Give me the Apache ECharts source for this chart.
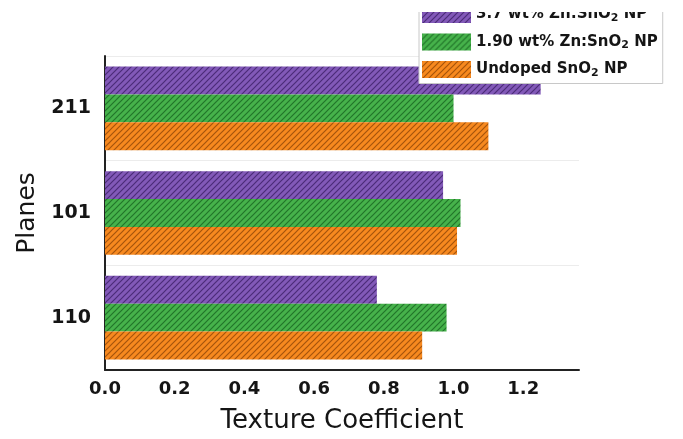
<!DOCTYPE html>
<html>
<head>
<meta charset="utf-8">
<script src="https://cdn.jsdelivr.net/npm/echarts@6/dist/echarts.min.js"></script>
<style>
  html, body { margin: 0; padding: 0; background: #fff; }
  #chart { width: 683px; height: 439px; }
</style>
</head>
<body>
<div id="chart"></div>
<script>
// Crystal planes (bottom to top on the axis)
const planes = ['110', '101', '211'];

// Texture coefficient per plane
const undoped = [0.91, 1.01, 1.10];
const zn190 = [0.98, 1.02, 1.00];
const zn37 = [0.78, 0.97, 1.25];

const seriesNames = ['3.7 wt% Zn:SnO2 NP', '1.90 wt% Zn:SnO2 NP', 'Undoped SnO2 NP'];
const xTicks = [0, 0.2, 0.4, 0.6, 0.8, 1.0, 1.2];

// Diagonal hatch fill: solid base colour with thin darker "/" strokes
function hatch(base, line) {
  const s = 6;
  const c = document.createElement('canvas');
  c.width = s; c.height = s;
  const ctx = c.getContext('2d');
  ctx.fillStyle = base;
  ctx.fillRect(0, 0, s, s);
  ctx.strokeStyle = line;
  ctx.lineWidth = 1.2;
  ctx.beginPath();
  ctx.moveTo(-1, s + 1); ctx.lineTo(s + 1, -1);
  ctx.moveTo(-1, 1); ctx.lineTo(1, -1);
  ctx.moveTo(s - 1, s + 1); ctx.lineTo(s + 1, s - 1);
  ctx.stroke();
  return { image: c, repeat: 'repeat' };
}

const purpleFill = hatch('#8259b8', '#4b2c78');
const greenFill = hatch('#46b24b', '#22752a');
const orangeFill = hatch('#f7891f', '#a5540c');

const FONT = 'DejaVu Sans';

const chart = echarts.init(document.getElementById('chart'), null, { renderer: 'canvas' });

function barSeries(name, data, fill) {
  return {
    name: name,
    type: 'bar',
    data: data,
    barGap: '0%',
    barCategoryGap: '20%',
    itemStyle: { color: fill },
    emphasis: { disabled: true }
  };
}

chart.setOption({
  animation: false,
  backgroundColor: '#ffffff',
  grid: { left: 105, right: 104, top: 56, bottom: 68, containLabel: false },
  legend: {
    data: seriesNames,
    orient: 'vertical',
    left: 419,
    top: -2,
    padding: [8, 5, 5, 3],
    itemWidth: 49,
    itemHeight: 17,
    itemGap: 10,
    icon: 'rect',
    selectedMode: false,
    backgroundColor: '#ffffff',
    borderColor: '#c8c8c8',
    borderWidth: 1,
    formatter: function (name) {
      return name.replace('SnO2', 'SnO{s|2}');
    },
    textStyle: {
      fontFamily: FONT,
      fontWeight: 'bold',
      fontSize: 15,
      color: '#151515',
      rich: {
        s: {
          fontFamily: FONT,
          fontWeight: 'bold',
          fontSize: 11,
          color: '#151515',
          verticalAlign: 'bottom',
          padding: [7, 0, 0, 0]
        }
      }
    }
  },
  // white strip along the top edge of the figure
  graphic: [{
    type: 'rect',
    left: 400,
    top: 0,
    z: 100,
    silent: true,
    shape: { width: 283, height: 12 },
    style: { fill: '#ffffff' }
  }],
  xAxis: {
    type: 'value',
    min: 0,
    max: 1.36,
    interval: 0.2,
    name: 'Texture Coefficient',
    nameLocation: 'middle',
    nameGap: 38,
    nameTextStyle: { fontFamily: FONT, fontSize: 26, color: '#151515' },
    axisLine: { show: true, lineStyle: { color: '#222', width: 2 } },
    axisTick: { show: false },
    splitLine: { show: false },
    axisLabel: {
      showMaxLabel: false,
      margin: 10,
      fontFamily: FONT,
      fontWeight: 'bold',
      fontSize: 18,
      color: '#151515',
      formatter: function (v) {
        const hit = xTicks.some(t => Math.abs(t - v) < 1e-6);
        return hit ? v.toFixed(1) : '';
      }
    }
  },
  yAxis: {
    type: 'category',
    data: planes,
    name: 'Planes',
    nameLocation: 'middle',
    nameGap: 62,
    nameRotate: 90,
    nameTextStyle: { fontFamily: FONT, fontSize: 25, color: '#151515' },
    axisLine: { show: true, lineStyle: { color: '#222', width: 2 } },
    axisTick: { show: false },
    splitLine: { show: true, lineStyle: { color: '#ececec', width: 1 } },
    axisLabel: {
      margin: 14,
      fontFamily: FONT,
      fontWeight: 'bold',
      fontSize: 19,
      color: '#151515'
    }
  },
  series: [
    barSeries(seriesNames[0], zn37, purpleFill),
    barSeries(seriesNames[1], zn190, greenFill),
    barSeries(seriesNames[2], undoped, orangeFill)
  ]
});
</script>
</body>
</html>
